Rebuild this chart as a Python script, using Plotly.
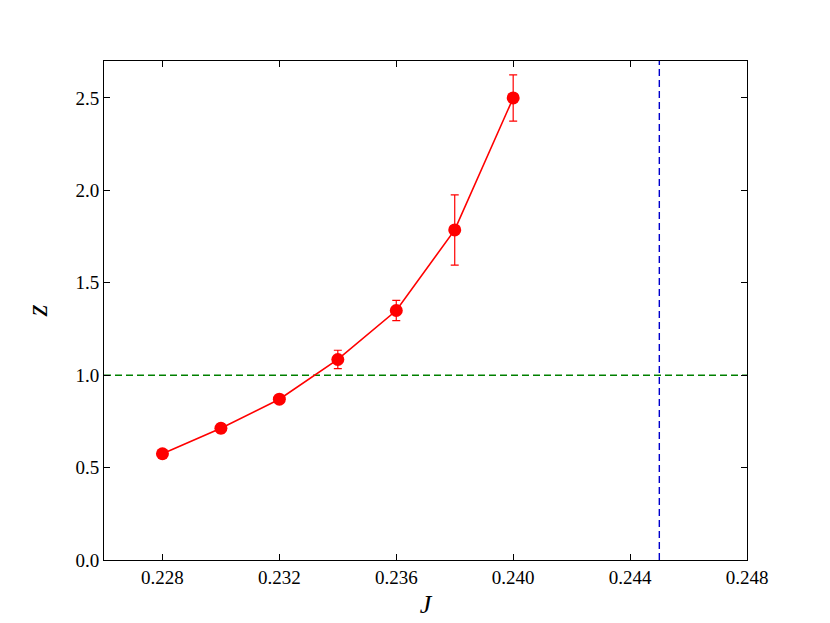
import plotly.graph_objects as go

# data
J = [0.228, 0.230, 0.232, 0.234, 0.236, 0.238, 0.240]
z = [0.575, 0.713, 0.870, 1.085, 1.350, 1.786, 2.500]
z_err = [0.020, 0.025, 0.015, 0.050, 0.055, 0.190, 0.125]

J_crit = 0.245
z_ref = 1.0

x_range = [0.226, 0.248]
y_range = [0.0, 2.7]
x_ticks = [0.228, 0.232, 0.236, 0.240, 0.244, 0.248]
y_ticks = [0.0, 0.5, 1.0, 1.5, 2.0, 2.5]

fig = go.Figure()

fig.add_trace(go.Scatter(
    x=x_range, y=[z_ref, z_ref], mode="lines",
    line=dict(color="#008000", width=1.4, dash="7px,4px"),
    hoverinfo="skip", showlegend=False,
))
fig.add_trace(go.Scatter(
    x=[J_crit, J_crit], y=y_range, mode="lines",
    line=dict(color="#0000cc", width=1.4, dash="7px,4px"),
    hoverinfo="skip", showlegend=False,
))
fig.add_trace(go.Scatter(
    x=J, y=z, mode="lines+markers",
    line=dict(color="red", width=1.6),
    marker=dict(color="red", size=13),
    error_y=dict(type="data", array=z_err, color="red", thickness=1.2, width=4),
    showlegend=False,
))

axis_common = dict(
    showgrid=False, zeroline=False, showline=True, linecolor="black",
    linewidth=1, mirror="allticks", ticks="inside", ticklen=6,
    tickcolor="black", tickfont=dict(size=19, color="black"),
    automargin=False,
)

# the page adds an 8px body margin, so the figure is a little smaller
fig.update_layout(
    width=822, height=615,
    margin=dict(l=96, r=83, t=53, b=63),
    plot_bgcolor="white", paper_bgcolor="white",
    font=dict(family="Liberation Serif, DejaVu Serif, serif", color="black"),
    xaxis=dict(range=x_range, tickvals=x_ticks,
               ticktext=[f"{t:.3f}" for t in x_ticks],
               title=dict(text="<i>J</i>", font=dict(size=26), standoff=8),
               **axis_common),
    yaxis=dict(range=y_range, tickvals=y_ticks,
               ticktext=[f"{t:.1f}" for t in y_ticks],
               title=dict(text="<i>z</i>", font=dict(size=30), standoff=18),
               **axis_common),
)

fig.write_html("out.html")
